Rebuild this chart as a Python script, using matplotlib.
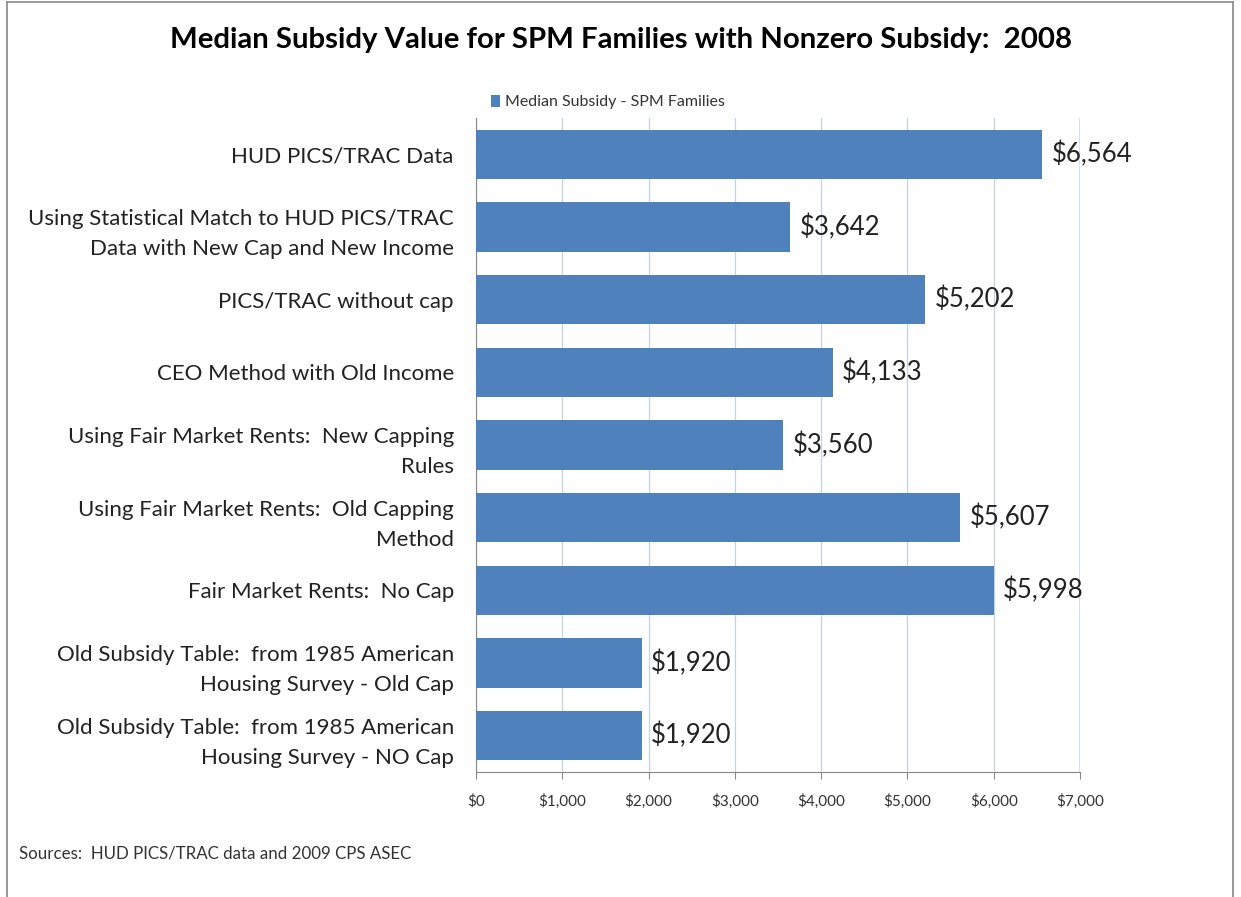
import matplotlib.pyplot as plt
from matplotlib.lines import Line2D

plt.rcParams['font.family'] = ['Lato', 'DejaVu Sans']

categories = [
    'HUD PICS/TRAC Data',
    'Using Statistical Match to HUD PICS/TRAC\nData with New Cap and New Income',
    'PICS/TRAC without cap',
    'CEO Method with Old Income',
    'Using Fair Market Rents:  New Capping\nRules',
    'Using Fair Market Rents:  Old Capping\nMethod',
    'Fair Market Rents:  No Cap',
    'Old Subsidy Table:  from 1985 American\nHousing Survey - Old Cap',
    'Old Subsidy Table:  from 1985 American\nHousing Survey - NO Cap',
]
values = [6564, 3642, 5202, 4133, 3560, 5607, 5998, 1920, 1920]
xticks = [0, 1000, 2000, 3000, 4000, 5000, 6000, 7000]

fig = plt.figure(figsize=(12.41, 8.97), dpi=100)
ax = fig.add_axes([0.3836, 0.1394, 0.4867, 0.7291])

ypos = list(range(len(categories)))
bars = ax.barh(ypos, values, height=0.68, color='#4F81BD', zorder=3,
               label='Median Subsidy - SPM Families')

for y, v in zip(ypos, values):
    ax.text(v + 110, y, '${:,}'.format(v), va='center', ha='left',
            fontsize=18.5, color='#222222', zorder=4)

ax.set_ylim(8.5, -0.5)
ax.set_xlim(0, 7000)
ax.set_yticks(ypos)
ax.set_yticklabels(categories, fontsize=16, color='#222222', ha='right',
                   linespacing=1.62)
ax.set_xticks(xticks)
ax.set_xticklabels(['${:,}'.format(t) for t in xticks], fontsize=11, color='#333333')
ax.tick_params(axis='y', length=0, pad=16)
ax.tick_params(axis='x', length=5, color='#888888', pad=11)
ax.grid(axis='x', color='#C5D1E3', linewidth=0.9, zorder=0)

for s in ['top', 'right']:
    ax.spines[s].set_visible(False)
ax.spines['left'].set_color('#888888')
ax.spines['bottom'].set_color('#888888')
ax.axvline(7000, color='#4F81BD', linewidth=1.0, zorder=2)

ax.legend(loc='lower center', bbox_to_anchor=(0.218, 1.0), frameon=False,
          fontsize=11.5, handlelength=0.6, handleheight=0.8, handletextpad=0.3,
          labelcolor='#333333', borderaxespad=0.15)

fig.text(0.5, 0.955, 'Median Subsidy Value for SPM Families with Nonzero Subsidy:  2008',
         ha='center', va='center', fontsize=21.2, fontweight='bold', color='black')
fig.text(0.015, 0.049, 'Sources:  HUD PICS/TRAC data and 2009 CPS ASEC',
         ha='left', va='center', fontsize=12.2, color='#333333')

# outer chart frame
frame_kw = dict(color='#888888', linewidth=1.2, transform=fig.transFigure)
fig.add_artist(Line2D([0.0057, 0.0057], [0.0, 0.9975], **frame_kw))
fig.add_artist(Line2D([0.0057, 0.9935], [0.9975, 0.9975], **frame_kw))
fig.add_artist(Line2D([0.9935, 0.9935], [0.0, 0.9975], **frame_kw))

fig.savefig('out.png', dpi=100)
